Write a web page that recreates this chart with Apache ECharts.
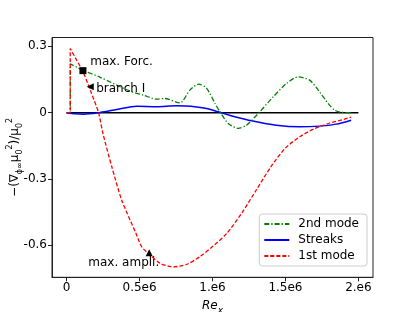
<!DOCTYPE html>
<html>
<head>
<meta charset="utf-8">
<script src="https://cdn.jsdelivr.net/npm/echarts@6/dist/echarts.min.js"></script>
<style>html,body{margin:0;padding:0;background:#fff}#c{width:415px;height:312px}</style>
</head>
<body>
<div id="c"></div>
<script>
// x values in units of 1e6
const firstModeX = [0, 0.025, 0.025, 0.066, 0.114, 0.165, 0.219, 0.249, 0.31, 0.378, 0.476, 0.515, 0.573, 0.642, 0.73, 0.825, 0.913, 1.0, 1.097, 1.2, 1.3, 1.4, 1.5, 1.6, 1.7, 1.8, 1.9, 1.95];
const firstModeY = [0, 0, 0.29, 0.241, 0.183, 0.097, 0, -0.094, -0.245, -0.396, -0.547, -0.607, -0.645, -0.682, -0.698, -0.686, -0.652, -0.606, -0.547, -0.455, -0.35, -0.245, -0.16, -0.108, -0.072, -0.048, -0.03, -0.02];
const secondModeX = [0, 0.025, 0.025, 0.112, 0.23, 0.436, 0.527, 0.617, 0.674, 0.777, 0.845, 0.907, 0.96, 1.017, 1.051, 1.108, 1.176, 1.233, 1.324, 1.415, 1.507, 1.586, 1.666, 1.735, 1.792, 1.838, 1.884, 1.952];
const secondModeY = [0, 0, 0.221, 0.192, 0.160, 0.097, 0.079, 0.061, 0.064, 0.044, 0.102, 0.129, 0.11, 0.042, 0.004, -0.049, -0.071, -0.057, 0.004, 0.071, 0.132, 0.162, 0.147, 0.093, 0.042, 0.011, 0.001, 0];
const streaksX = [0, 0.06, 0.116, 0.23, 0.344, 0.481, 0.617, 0.754, 0.891, 0.968, 1.038, 1.14, 1.277, 1.437, 1.596, 1.733, 1.847, 1.95];
const streaksY = [0, -0.005, -0.007, 0.001, 0.014, 0.029, 0.027, 0.031, 0.026, 0.018, 0.004, -0.016, -0.038, -0.057, -0.064, -0.061, -0.052, -0.034];
const zeroLineX = [0, 2.0];
const zeroLineY = [0, 0];
const xTickValues = [0, 0.5, 1.0, 1.5, 2.0];
const xTickLabels = ['0', '0.5e6', '1.e6', '1.5e6', '2.e6'];
const yTickValues = [-0.6, -0.3, 0, 0.3];
const yTickLabels = ['-0.6', '-0.3', '0', '0.3'];
const squareMarker = [[0.112, 0.19]];
const leftArrowMarker = [[0.162, 0.117]];
const upArrowMarker = [[0.566, -0.634]];
const annotations = [
  { text: 'max. Forc.', x: 0.162, y: 0.228 },
  { text: 'branch I', x: 0.203, y: 0.106 },
  { text: 'max. ampli.', x: 0.149, y: -0.678 }
];

const zip = (a, b) => a.map((v, i) => [v, b[i]]);
const FONT = 'DejaVu Sans';

const chart = echarts.init(document.getElementById('c'), null, { renderer: 'canvas' });
chart.setOption({
  animation: false,
  backgroundColor: '#fff',
  textStyle: { fontFamily: FONT },
  grid: { left: 52, right: 42, top: 37.5, bottom: 34.7, show: true, borderColor: '#222', borderWidth: 1,
    backgroundColor: 'transparent', containLabel: false, outerBoundsMode: 'none' },
  legend: {
    orient: 'vertical', right: 48, top: 214,
    data: ['2nd mode', 'Streaks', '1st mode'],
    itemWidth: 25, itemHeight: 10, itemGap: 4,
    padding: [4, 8, 4, 4],
    borderColor: '#ccc', borderWidth: 1, borderRadius: 3,
    backgroundColor: 'rgba(255,255,255,0.8)',
    itemStyle: { opacity: 0 },
    textStyle: { fontFamily: FONT, fontSize: 12, color: '#000', padding: [0, 0, 0, 4] }
  },
  xAxis: {
    type: 'value', min: -0.1, max: 2.1,
    splitLine: { show: false },
    axisLine: { onZero: false, lineStyle: { color: '#222' } },
    axisTick: { show: true, length: 4, lineStyle: { color: '#222' }, customValues: xTickValues },
    axisLabel: { fontFamily: FONT, fontSize: 12, color: '#000', margin: 5, customValues: xTickValues,
      formatter: v => { const i = xTickValues.findIndex(t => Math.abs(t - v) < 1e-9); return i >= 0 ? xTickLabels[i] : ''; } },
    name: '{it|Re}{sub|x}', nameLocation: 'middle', nameGap: 20, nameMoveOverlap: false,
    nameTextStyle: { rich: {
      it: { fontFamily: FONT, fontStyle: 'italic', fontSize: 12, color: '#000', lineHeight: 18, verticalAlign: 'middle' },
      sub: { fontFamily: FONT, fontStyle: 'italic', fontSize: 9, color: '#000', lineHeight: 18, verticalAlign: 'bottom' }
    } }
  },
  yAxis: {
    type: 'value', min: -0.745, max: 0.34,
    splitLine: { show: false },
    axisLine: { onZero: false, lineStyle: { color: '#222' } },
    axisTick: { show: true, length: 4, lineStyle: { color: '#222' }, customValues: yTickValues },
    axisLabel: { fontFamily: FONT, fontSize: 12, color: '#000', margin: 5, customValues: yTickValues,
      formatter: v => { const i = yTickValues.findIndex(t => Math.abs(t - v) < 1e-9); return i >= 0 ? yTickLabels[i] : ''; } },
    name: '{n|−(∇}{s|ϕ∞}{n|μ}{s|0}{p|2}{n|)/μ}{s|0}{p|2}', nameLocation: 'middle', nameGap: 28, nameRotate: 90,
    nameMoveOverlap: false,
    nameTextStyle: { rich: {
      n: { fontFamily: FONT, fontSize: 12, color: '#000', lineHeight: 18, verticalAlign: 'middle' },
      s: { fontFamily: FONT, fontSize: 8, color: '#000', lineHeight: 18, verticalAlign: 'bottom' },
      p: { fontFamily: FONT, fontSize: 8, color: '#000', lineHeight: 18, verticalAlign: 'top' }
    } }
  },
  series: [
    { name: 'zero', type: 'line', data: zip(zeroLineX, zeroLineY), showSymbol: false, symbol: 'none',
      lineStyle: { color: '#000', width: 1.5 }, z: 1, silent: true },
    { name: 'Streaks', type: 'line', data: zip(streaksX, streaksY), showSymbol: false, symbol: 'none', smooth: 0.3,
      lineStyle: { color: '#0000ff', width: 1.5 }, itemStyle: { color: '#0000ff' }, z: 2 },
    { name: '2nd mode', type: 'line', data: zip(secondModeX, secondModeY), showSymbol: false, symbol: 'none', smooth: 0.25,
      lineStyle: { color: '#008000', width: 1.3, type: [5, 2, 1.3, 2] }, itemStyle: { color: '#008000' }, z: 3 },
    { name: '1st mode', type: 'line', data: zip(firstModeX, firstModeY), showSymbol: false, symbol: 'none', smooth: 0.25,
      lineStyle: { color: '#ff0000', width: 1.3, type: [4, 2] }, itemStyle: { color: '#ff0000' }, z: 4 },
    { name: 'sq', type: 'scatter', data: squareMarker, symbol: 'rect', symbolSize: 7, itemStyle: { color: '#000', opacity: 1 }, z: 6 },
    { name: 'la', type: 'scatter', data: leftArrowMarker, symbol: 'triangle', symbolRotate: 90, symbolSize: [7, 7], itemStyle: { color: '#000', opacity: 1 }, z: 6 },
    { name: 'ua', type: 'scatter', data: upArrowMarker, symbol: 'triangle', symbolSize: [7, 7], itemStyle: { color: '#000', opacity: 1 }, z: 6 },
    { name: 'notes', type: 'scatter', symbolSize: 0, z: 7, itemStyle: { opacity: 1 },
      data: annotations.map(a => ({ value: [a.x, a.y], label: { show: true, formatter: a.text } })),
      label: { show: true, position: 'right', distance: 0, fontFamily: FONT, fontSize: 12, color: '#000', opacity: 1 } }
  ]
});
</script>
</body>
</html>
